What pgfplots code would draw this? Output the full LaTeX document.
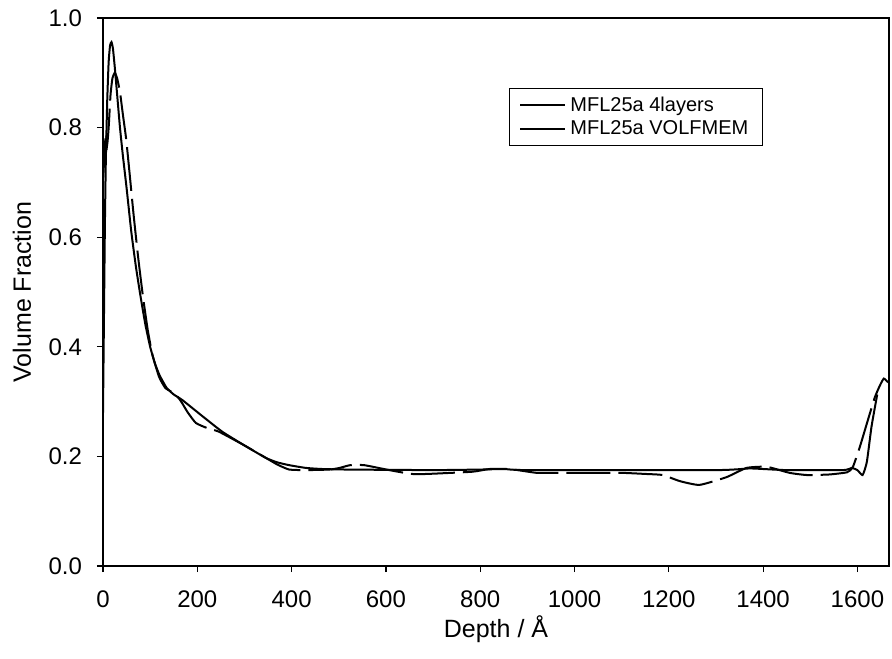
\documentclass[border=0pt]{standalone}
\usepackage{fontspec}
\setmainfont{Liberation Sans}
\usepackage{pgfplots}
\pgfplotsset{compat=1.18}

\begin{document}
\begin{tikzpicture}
\begin{axis}[
    scale only axis,
    width=393pt, height=274pt,
    xmin=0, xmax=1667, ymin=0, ymax=1,
    xtick={0,200,...,1600},
    ytick={0,0.2,...,1.0},
    xtick pos=left, ytick pos=left,
    tick align=outside,
    major tick length=3pt,
    axis line style={line width=0.7pt},
    every tick/.style={black, line width=0.6pt},
    /pgf/number format/assume math mode=true,
    /pgf/number format/1000 sep={},
    ticklabel style={font=\fontsize{12}{14}\selectfont},
    yticklabel style={/pgf/number format/fixed, /pgf/number format/fixed zerofill, /pgf/number format/precision=1, xshift=-4pt},
    xticklabel style={yshift=-6pt},
    xlabel={Depth / Å},
    ylabel={Volume Fraction},
    every axis x label/.style={at={(axis description cs:0.5,-0.1150)}, anchor=center, font=\fontsize{12.5}{14}\selectfont},
    every axis y label/.style={at={(axis description cs:-0.103,0.5)}, anchor=center, rotate=90, font=\fontsize{12.5}{14}\selectfont},
    legend style={at={(0.5165,0.872)}, anchor=north west, draw=black, line width=0.5pt,
        font=\fontsize{10}{12}\selectfont, inner xsep=5pt, inner ysep=2pt, row sep=-1pt},
    legend cell align=left,
    legend image code/.code={\draw[#1,solid] (0pt,0pt) -- (22.5pt,0pt);},
]
% MFL25a 4layers
\addplot[black, line width=1pt, smooth, tension=0.3] coordinates {
    (0,0.28) (2,0.45) (4,0.62) (6,0.74) (9,0.85) (12,0.92) (15,0.95) (18,0.956)
    (21,0.945) (25,0.91) (30,0.86) (36,0.80) (42,0.75) (50,0.69) (60,0.61)
    (70,0.545) (80,0.49) (90,0.44) (100,0.40) (110,0.37) (120,0.348) (135,0.325)
    (150,0.313) (168,0.303) (210,0.274) (253,0.245) (300,0.22) (346,0.197)
    (370,0.189) (395,0.184) (430,0.179) (465,0.177) (520,0.176) (700,0.175)
    (800,0.176) (850,0.177) (900,0.175) (1300,0.175) (1370,0.178) (1400,0.177)
    (1450,0.175) (1570,0.175) (1588,0.179) (1600,0.175) (1611,0.166)
    (1620,0.19) (1630,0.255) (1642,0.313)
};
% MFL25a VOLFMEM
\addplot[black, line width=1pt, smooth, tension=0.3, dash pattern=on 22pt off 4pt] coordinates {
    (0,0.70) (3,0.75) (6,0.79) (9,0.77) (12,0.80) (16,0.86) (20,0.89) (25,0.90)
    (30,0.89) (36,0.865) (42,0.825) (49,0.78) (56,0.72) (65,0.64) (75,0.56)
    (85,0.49) (95,0.43) (105,0.385) (119,0.345) (132,0.325) (145,0.318)
    (160,0.307) (168,0.297) (180,0.28) (197,0.261) (220,0.252) (246,0.245)
    (300,0.22) (346,0.197) (370,0.185) (395,0.176) (431,0.175) (480,0.176)
    (502,0.179) (524,0.184) (554,0.184) (607,0.175) (654,0.168) (688,0.168)
    (783,0.172) (820,0.177) (862,0.177) (919,0.170) (953,0.170) (1032,0.170)
    (1100,0.170) (1150,0.168) (1187,0.166) (1223,0.155) (1265,0.148)
    (1322,0.162) (1365,0.179) (1408,0.181) (1456,0.170) (1493,0.166)
    (1540,0.167) (1578,0.171) (1590,0.18) (1605,0.217) (1620,0.26)
    (1637,0.308) (1648,0.33) (1656,0.342) (1665,0.335)
};
\legend{MFL25a 4layers, MFL25a VOLFMEM}
\end{axis}
\path (current axis.south west) ++(-51.5pt,-46pt) coordinate (bl);
\path (current axis.north east) ++(1.5pt,9pt) coordinate (tr);
\pgfresetboundingbox
\path[use as bounding box] (bl) rectangle (tr);
\end{tikzpicture}
\end{document}
